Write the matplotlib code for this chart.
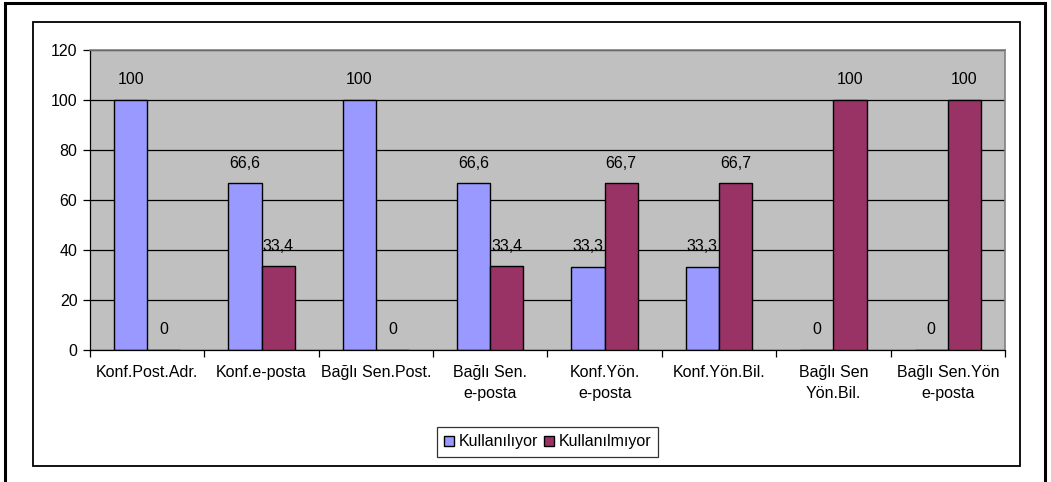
"""Grouped bar chart: usage (%) of contact channels, Kullanılıyor vs Kullanılmıyor."""

import matplotlib

matplotlib.use("Agg")
import matplotlib.pyplot as plt
import numpy as np
from matplotlib.patches import Rectangle

plt.rcParams["font.family"] = ["Liberation Sans", "DejaVu Sans"]

categories = [
    "Konf.Post.Adr.",
    "Konf.e-posta",
    "Bağlı Sen.Post.",
    "Bağlı Sen.\ne-posta",
    "Konf.Yön.\ne-posta",
    "Konf.Yön.Bil.",
    "Bağlı Sen\nYön.Bil.",
    "Bağlı Sen.Yön\ne-posta",
]
kullaniliyor = [100, 66.6, 100, 66.6, 33.3, 33.3, 0, 0]
kullanilmiyor = [0, 33.4, 0, 33.4, 66.7, 66.7, 100, 100]
series_names = ["Kullanılıyor", "Kullanılmıyor"]
y_ticks = [0, 20, 40, 60, 80, 100, 120]

BLUE = "#9999FF"
PLUM = "#993366"
PLOT_BG = "#C0C0C0"
FS = 11.5


def fmt(v):
    s = f"{v:g}"
    return s.replace(".", ",")


fig = plt.figure(figsize=(10.51, 4.82), dpi=100)

# outer page frame and chart-area frame
fig.patches.append(Rectangle((0.0048, -0.02), 0.9895, 1.0138, transform=fig.transFigure,
                             fill=False, edgecolor="black", linewidth=2.2, zorder=0))
fig.patches.append(Rectangle((0.0314, 0.0332), 0.939, 0.921, transform=fig.transFigure,
                             fill=False, edgecolor="black", linewidth=1.3, zorder=0))

ax = fig.add_axes([0.0856, 0.2739, 0.8706, 0.6224])
ax.set_facecolor(PLOT_BG)

x = np.arange(len(categories))
w = 0.29
b1 = ax.bar(x - w / 2, kullaniliyor, w, color=BLUE, edgecolor="black", linewidth=1.0,
            label=series_names[0], zorder=2)
b2 = ax.bar(x + w / 2, kullanilmiyor, w, color=PLUM, edgecolor="black", linewidth=1.0,
            label=series_names[1], zorder=4)

# blue-series labels sit under the plum bars, as in the original
for xi, v in zip(x - w / 2, kullaniliyor):
    ax.annotate(fmt(v), (xi, v), xytext=(0, 14.5), textcoords="offset points",
                ha="center", va="center", fontsize=FS, zorder=3)
for xi, v in zip(x + w / 2, kullanilmiyor):
    ax.annotate(fmt(v), (xi, v), xytext=(0, 14.5), textcoords="offset points",
                ha="center", va="center", fontsize=FS, zorder=5)

ax.set_xlim(-0.5, len(categories) - 0.5)
ax.set_ylim(0, 120)
ax.set_yticks(y_ticks)
ax.yaxis.grid(True, color="black", linewidth=0.9, zorder=1)
ax.set_axisbelow(True)

ax.set_xticks(x)
ax.set_xticklabels(categories, fontsize=FS, linespacing=1.45, va="top")
ax.set_xticks(np.arange(len(categories) + 1) - 0.5, minor=True)
ax.tick_params(axis="x", which="major", length=0, pad=11)
ax.tick_params(axis="x", which="minor", length=5, width=0.9, direction="out")
ax.tick_params(axis="y", length=5, width=0.9, direction="out", labelsize=FS, pad=4)

for side in ("top", "right"):
    ax.spines[side].set_color("#808080")
    ax.spines[side].set_linewidth(1.2)
for side in ("left", "bottom"):
    ax.spines[side].set_color("black")
    ax.spines[side].set_linewidth(0.9)

leg = fig.legend(handles=[b1, b2], loc="center", bbox_to_anchor=(0.521, 0.083),
                 ncol=2, fontsize=FS, frameon=True, fancybox=False, edgecolor="black",
                 handlelength=0.6, handleheight=0.6, handletextpad=0.3, columnspacing=0.4,
                 borderpad=0.45)
leg.get_frame().set_linewidth(0.9)

fig.savefig("out.png", dpi=100)
